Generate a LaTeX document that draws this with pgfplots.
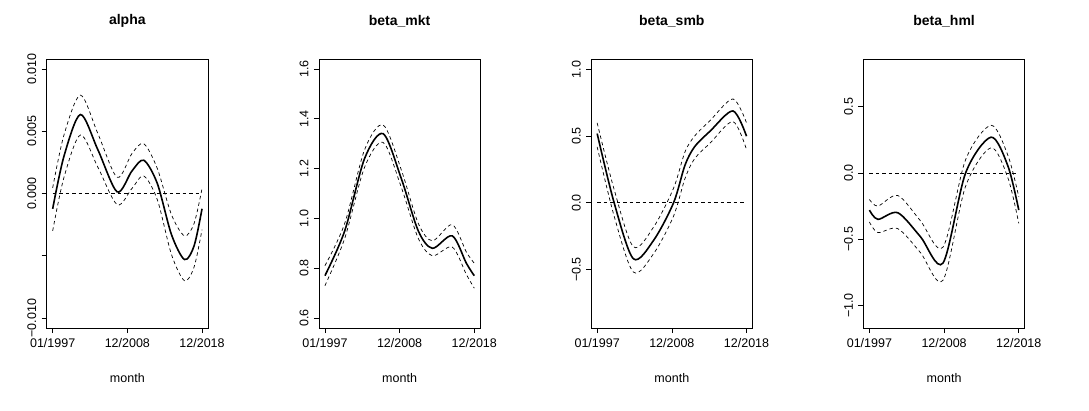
\documentclass[border=0pt]{standalone}
\usepackage{pgfplots}
\pgfplotsset{compat=1.18}
\usepackage{fontspec}
\setmainfont{Liberation Sans}
\pgfplotsset{panel/.style={scale only axis, width=161.3pt, height=269pt, anchor=south west,
 xmin=-10.56, xmax=274.56, xtick={0,132,264}, xticklabels={01/1997,12/2008,12/2018},
 axis line style={line width=0.7pt}, tick style={line width=0.7pt, black}, tickwidth=5pt,
 xtick pos=bottom, ytick pos=left, tick align=outside, scaled y ticks=false,
 ticklabel style={font=\fontsize{12.5}{14}\selectfont},
 xticklabel style={yshift=-2pt},
 yticklabel style={rotate=90, anchor=south, yshift=2pt},
 xlabel={month}, xlabel style={font=\fontsize{12.5}{14}\selectfont, yshift=-19pt},
 title style={font=\bfseries\fontsize{14}{16}\selectfont, yshift=22pt},
 every axis plot/.append style={smooth, black},
 clip=false},
 sol/.style={line width=1.6pt},
 dsh/.style={line width=0.7pt, dash pattern=on 3.5pt off 3pt}}
\begin{document}
\begin{tikzpicture}[x=1pt,y=1pt]
\useasboundingbox (0,0) rectangle (1089,410);
\begin{axis}[panel, at={(46.7pt,82pt)}, title={alpha}, ymin=-0.0108, ymax=0.0108,
 ytick={-0.01,-0.005,0,0.005,0.01}, yticklabels={−0.010,,0.000,0.005,0.010}]
\addplot[dsh, sharp plot] coordinates {(0,0) (264,0)};
\addplot[sol] coordinates {(0,-0.00123) (20,0.003) (49,0.00634) (80,0.0035) (114,0.00013) (140,0.0018) (161,0.00267) (185,0.0008) (210,-0.0033) (233,-0.0053) (250,-0.0042) (264,-0.00123)};
\addplot[dsh] coordinates {(0,0.00045) (20,0.0047) (49,0.0079) (80,0.0048) (114,0.0013) (140,0.0032) (161,0.004) (185,0.002) (210,-0.0017) (233,-0.0034) (250,-0.0024) (264,0.0004)};
\addplot[dsh] coordinates {(0,-0.003) (20,0.0013) (49,0.0047) (80,0.0021) (114,-0.0009) (140,0.0004) (161,0.0014) (185,-0.0005) (210,-0.0049) (233,-0.0070) (250,-0.0059) (264,-0.0029)};
\end{axis}
\begin{axis}[panel, at={(318.95pt,82pt)}, title={beta\_mkt}, ymin=0.56, ymax=1.64,
 ytick={0.6,0.8,1.0,1.2,1.4,1.6}, yticklabels={0.6,0.8,1.0,1.2,1.4,1.6}]
\addplot[sol] coordinates {(0,0.77) (35,0.95) (70,1.24) (103,1.34) (135,1.16) (165,0.95) (190,0.88) (225,0.93) (250,0.82) (264,0.77)};
\addplot[dsh] coordinates {(0,0.81) (35,0.98) (70,1.275) (103,1.375) (135,1.195) (165,0.98) (190,0.91) (225,0.975) (250,0.865) (264,0.82)};
\addplot[dsh] coordinates {(0,0.73) (35,0.92) (70,1.205) (103,1.305) (135,1.125) (165,0.92) (190,0.85) (225,0.885) (250,0.775) (264,0.72)};
\end{axis}
\begin{axis}[panel, at={(591.2pt,82pt)}, title={beta\_smb}, ymin=-0.94, ymax=1.08,
 ytick={-0.5,0,0.5,1}, yticklabels={−0.5,0.0,0.5,1.0}]
\addplot[dsh, sharp plot] coordinates {(0,0) (264,0)};
\addplot[sol] coordinates {(0,0.52) (30,0.0) (64,-0.42) (100,-0.28) (135,0.0) (155,0.28) (172,0.42) (200,0.54) (240,0.69) (264,0.5)};
\addplot[dsh] coordinates {(0,0.6) (30,0.1) (64,-0.33) (100,-0.18) (135,0.11) (155,0.38) (172,0.5) (200,0.62) (240,0.78) (264,0.6)};
\addplot[dsh] coordinates {(0,0.42) (30,-0.1) (64,-0.52) (100,-0.38) (135,-0.1) (155,0.18) (172,0.33) (200,0.45) (240,0.61) (264,0.4)};
\end{axis}
\begin{axis}[panel, at={(863.45pt,82pt)}, title={beta\_hml}, ymin=-1.17, ymax=0.86,
 ytick={-1,-0.5,0,0.5}, yticklabels={−1.0,−0.5,0.0,0.5}]
\addplot[dsh, sharp plot] coordinates {(0,0) (264,0)};
\addplot[sol] coordinates {(0,-0.28) (15,-0.35) (50,-0.3) (90,-0.48) (130,-0.68) (170,0.0) (215,0.27) (245,0.05) (264,-0.28)};
\addplot[dsh] coordinates {(0,-0.2) (15,-0.25) (50,-0.17) (90,-0.36) (130,-0.56) (170,0.1) (215,0.36) (245,0.13) (264,-0.18)};
\addplot[dsh] coordinates {(0,-0.37) (15,-0.45) (50,-0.42) (90,-0.6) (130,-0.81) (170,-0.1) (215,0.19) (245,-0.04) (264,-0.38)};
\end{axis}
\end{tikzpicture}
\end{document}
